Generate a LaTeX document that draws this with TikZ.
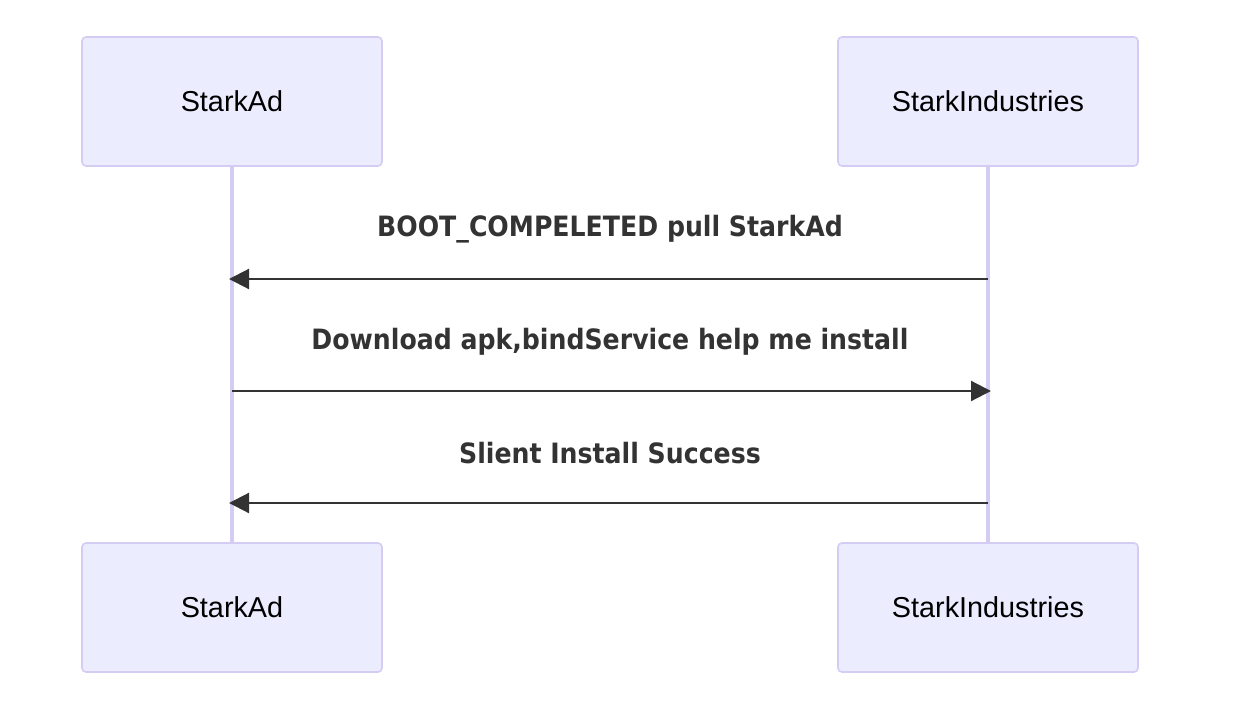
\documentclass[tikz,border=0pt]{standalone}
\usepackage{fontspec}
\setmainfont{Liberation Sans}
\newfontfamily\msgfont{DejaVu Sans Condensed}
\usetikzlibrary{arrows.meta}
\definecolor{actfill}{HTML}{ECECFF}
\definecolor{actline}{HTML}{D4CCF2}
\definecolor{msgcol}{HTML}{333333}
\tikzset{
  actor/.style={draw=actline, line width=1.2pt, fill=actfill, rounded corners=3pt,
    minimum width=225pt, minimum height=96.75pt, inner sep=0pt,
    font=\fontsize{21.6pt}{26pt}\selectfont, text=black},
  lifeline/.style={draw=actline, line width=2.3pt},
  msg/.style={draw=msgcol, line width=1.6pt, -{Triangle[length=15pt,width=15pt]}, shorten >=-2.25pt},
  msglabel/.style={font=\msgfont\bfseries\fontsize{21pt}{25pt}\selectfont, text=msgcol, inner sep=0pt}
}
\begin{document}
\begin{tikzpicture}[x=0.75pt,y=-0.75pt]
\useasboundingbox (0,0) rectangle (1260,720);
\fill[white] (0,0) rectangle (1260,720);
\node[actor] (at) at (232,101.5) {StarkAd};
\node[actor] (bt) at (988,101.5) {StarkIndustries};
\node[actor] (ab) at (232,607.5) {StarkAd};
\node[actor] (bb) at (988,607.5) {StarkIndustries};
\draw[lifeline] (at.south) -- (ab.north);
\draw[lifeline] (bt.south) -- (bb.north);
\coordinate (a1) at (232,279); \coordinate (b1) at (988,279);
\coordinate (a2) at (232,391); \coordinate (b2) at (988,391);
\coordinate (a3) at (232,503); \coordinate (b3) at (988,503);
\draw[msg] (b1) -- (a1);
\draw[msg] (a2) -- (b2);
\draw[msg] (b3) -- (a3);
\node[msglabel] (l1) at (610,229.5) {BOOT\_COMPELETED pull StarkAd};
\node[msglabel] (l2) at (610,341.5) {Download apk,bindService help me install};
\node[msglabel] (l3) at (610,453.5) {Slient Install Success};
\end{tikzpicture}
\end{document}
